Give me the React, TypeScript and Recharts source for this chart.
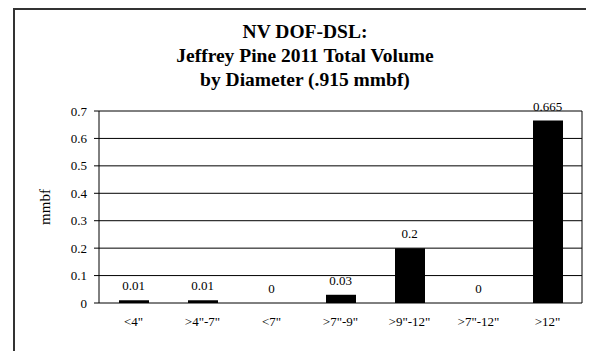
import { ComposedChart, Bar, Line, XAxis, YAxis, CartesianGrid } from "recharts"

const categories = ['<4"', '>4"-7"', '<7"', '>7"-9"', '>9"-12"', '>7"-12"', '>12"']
const volume = [0.01, 0.01, 0, 0.03, 0.2, 0, 0.665]
const yTicks = [0, 0.1, 0.2, 0.3, 0.4, 0.5, 0.6, 0.7]
const boundaryTicks = [0, 1, 2, 3, 4, 5, 6, 7]
const titleLines = ["NV DOF-DSL:", "Jeffrey Pine 2011 Total Volume", "by Diameter (.915 mmbf)"]

const data = categories.map((name, i) => ({ name, volume: volume[i] }))

const serif = '"Liberation Serif", "Times New Roman", serif'

// value labels drawn off an invisible line so zero-height bars still get one
const ValueLabel = (props: any) => {
  const { x, y, value } = props
  return (
    <text x={x} y={Number(y) - 10} textAnchor="middle" fontSize={13} fill="#000" fontFamily={serif}>
      {value}
    </text>
  )
}

export default function App() {
  return (
    <div style={{ position: "relative", width: 586, height: 343, overflow: "hidden", fontFamily: serif }}>
      <div
        style={{
          position: "absolute",
          left: 5,
          top: 0,
          width: 600,
          height: 400,
          border: "2px solid #333",
          boxSizing: "border-box",
        }}
      />
      <div
        style={{
          position: "absolute",
          left: 0,
          top: 12,
          width: 594,
          textAlign: "center",
          fontWeight: "bold",
          fontSize: 19.5,
          lineHeight: "24px",
          color: "#000",
          fontFamily: serif,
        }}
      >
        {titleLines.map((t) => (
          <div key={t}>{t}</div>
        ))}
      </div>
      <div style={{ position: "absolute", left: 0, top: 0 }}>
        <ComposedChart
          width={586}
          height={343}
          data={data}
          margin={{ top: 103, right: 12, bottom: 18, left: 41 }}
        >
          <CartesianGrid
            horizontal
            vertical
            verticalPoints={[574]}
            stroke="#000"
            strokeWidth={1}
          />
          <XAxis
            xAxisId="edges"
            type="number"
            dataKey={() => 0}
            domain={[0, 7]}
            ticks={boundaryTicks}
            height={0}
            tickSize={5}
            tickFormatter={() => ""}
            axisLine={{ stroke: "#000" }}
            tickLine={{ stroke: "#000" }}
            allowDataOverflow
          />
          <XAxis
            xAxisId="cat"
            dataKey="name"
            height={30}
            axisLine={false}
            tickLine={false}
            tickSize={0}
            tickMargin={14}
            interval={0}
            tick={{ fontSize: 13, fill: "#000", fontFamily: serif }}
          />
          <YAxis
            width={50}
            domain={[0, 0.7]}
            ticks={yTicks}
            tickSize={5}
            tickMargin={7}
            axisLine={{ stroke: "#000" }}
            tickLine={{ stroke: "#000" }}
            tick={{ fontSize: 13, fill: "#000", fontFamily: serif }}
            label={{
              value: "mmbf",
              angle: -90,
              position: "insideLeft",
              offset: -4,
              style: { fontSize: 15, fill: "#000", fontFamily: serif, textAnchor: "middle" },
            }}
          />
          <Bar dataKey="volume" xAxisId="cat" fill="#000" barSize={30} isAnimationActive={false} />
          <Line
            dataKey="volume"
            xAxisId="cat"
            stroke="none"
            dot={false}
            activeDot={false}
            label={ValueLabel}
            isAnimationActive={false}
          />
        </ComposedChart>
      </div>
    </div>
  )
}
